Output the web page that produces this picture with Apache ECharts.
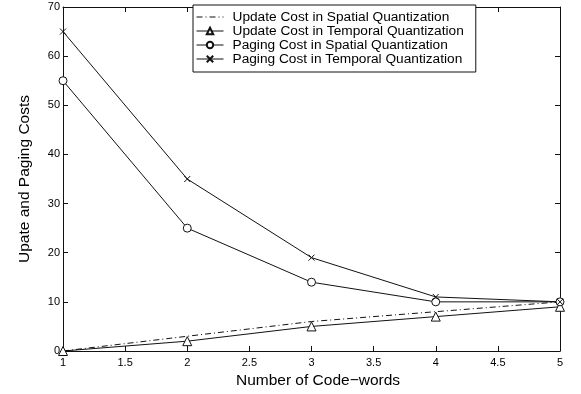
<!DOCTYPE html>
<html>
<head>
<meta charset="utf-8">
<script src="https://cdn.jsdelivr.net/npm/echarts@6/dist/echarts.min.js"></script>
<style>
  html, body { margin: 0; padding: 0; background: #fff; }
  #chart { width: 581px; height: 394px; }
</style>
</head>
<body>
<div id="chart"></div>
<script>
// Number of code-words on the x axis
const codeWords = [1, 2, 3, 4, 5];

// Cost values per scheme
const updateSpatial = [0, 3, 6, 8, 10];
const updateTemporal = [0, 2, 5, 7, 9];
const pagingSpatial = [55, 25, 14, 10, 10];
const pagingTemporal = [65, 35, 19, 11, 10];

const seriesNames = [
  'Update Cost in Spatial Quantization',
  'Update Cost in Temporal Quantization',
  'Paging Cost in Spatial Quantization',
  'Paging Cost in Temporal Quantization'
];

const pairs = (ys) => codeWords.map((x, i) => [x, ys[i]]);
const FONT = 'Liberation Sans, Arial, sans-serif';
const INK = '#111';
const crossPath = 'path://M0,0L10,10M10,0L0,10';

const chart = echarts.init(document.getElementById('chart'), null, { renderer: 'canvas' });

const axisCommon = {
  axisLine: { show: true, onZero: false, lineStyle: { color: INK, width: 1 } },
  axisTick: { show: true, inside: true, length: 5, lineStyle: { color: INK } },
  splitLine: { show: false }
};

// hollow markers: white fill, thin dark outline
const hollow = { color: '#fff', borderColor: INK, borderWidth: 1 };

chart.setOption({
  backgroundColor: '#fff',
  animation: false,
  grid: { left: 63, right: 21, top: 7, bottom: 42, containLabel: false },
  legend: {
    orient: 'vertical',
    left: 193,
    top: 5,
    padding: [5, 12, 6, 3],
    itemGap: 0,
    itemWidth: 27,
    itemHeight: 8,
    backgroundColor: '#fff',
    borderColor: INK,
    borderWidth: 1,
    borderRadius: 0,
    lineStyle: { width: 1 },
    textStyle: { fontFamily: FONT, fontSize: 13.7, color: '#000', lineHeight: 14, padding: [0, 0, 0, 4] },
    data: [
      { name: seriesNames[0], itemStyle: { opacity: 0 } },
      seriesNames[1],
      seriesNames[2],
      seriesNames[3]
    ]
  },
  xAxis: [
    Object.assign({
      type: 'value', min: 1, max: 5, interval: 0.5, position: 'bottom',
      name: 'Number of Code\u2212words', nameLocation: 'middle', nameGap: 22,
      nameTextStyle: { fontFamily: FONT, fontSize: 15.5, color: '#000', padding: [0, 0, 0, 13] },
      axisLabel: { fontFamily: FONT, fontSize: 11, color: '#000', margin: 6 }
    }, axisCommon),
    Object.assign({
      type: 'value', min: 1, max: 5, interval: 0.5, position: 'top',
      axisLabel: { show: false }
    }, axisCommon)
  ],
  yAxis: [
    Object.assign({
      type: 'value', min: 0, max: 70, interval: 10, position: 'left',
      name: 'Upate and Paging Costs', nameLocation: 'middle', nameGap: 30,
      nameTextStyle: { fontFamily: FONT, fontSize: 15.5, color: '#000' },
      axisLabel: { fontFamily: FONT, fontSize: 11, color: '#000', margin: 3 }
    }, axisCommon),
    Object.assign({
      type: 'value', min: 0, max: 70, interval: 10, position: 'right',
      axisLabel: { show: false }
    }, axisCommon)
  ],
  series: [
    {
      name: seriesNames[0], type: 'line', data: pairs(updateSpatial),
      symbol: 'none',
      lineStyle: { color: INK, width: 1, type: [6, 3, 1, 3] },
      itemStyle: { color: INK }
    },
    {
      name: seriesNames[1], type: 'line', data: pairs(updateTemporal),
      symbol: 'triangle', symbolSize: 9,
      lineStyle: { color: INK, width: 1 },
      itemStyle: hollow
    },
    {
      name: seriesNames[2], type: 'line', data: pairs(pagingSpatial),
      symbol: 'circle', symbolSize: 8,
      lineStyle: { color: INK, width: 1 },
      itemStyle: hollow
    },
    {
      name: seriesNames[3], type: 'line', data: pairs(pagingTemporal),
      symbol: crossPath, symbolSize: 6,
      lineStyle: { color: INK, width: 1 },
      itemStyle: { color: INK, borderColor: INK, borderWidth: 1 }
    }
  ]
});
</script>
</body>
</html>
